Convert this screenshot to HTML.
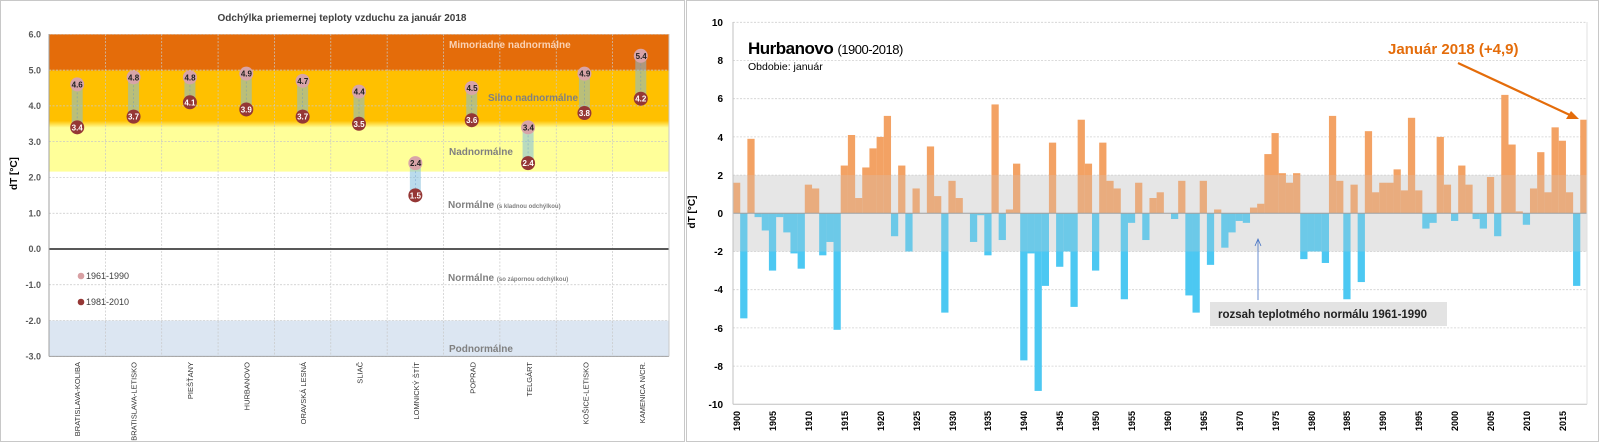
<!DOCTYPE html>
<html><head><meta charset="utf-8"><style>
html,body{margin:0;padding:0;background:#fff;}
svg{display:block;font-family:"Liberation Sans",sans-serif;}
</style></head><body>
<svg id="s" width="1600" height="443" viewBox="0 0 1600 443" xmlns="http://www.w3.org/2000/svg">
<defs>
<linearGradient id="g1" x1="0" y1="0" x2="0" y2="1">
<stop offset="0" stop-color="#E46C0A"/><stop offset="0.255" stop-color="#E46C0A"/>
<stop offset="0.27" stop-color="#FFC000"/><stop offset="0.63" stop-color="#FFC000"/>
<stop offset="0.68" stop-color="#FFFF99"/><stop offset="1" stop-color="#FFFF99"/>
</linearGradient>
</defs>
<rect x="0.5" y="0.5" width="684" height="441" fill="#fff" stroke="#c8c8c8"/>
<rect x="686.5" y="0.5" width="912" height="441" fill="#fff" stroke="#c8c8c8"/>
<!-- LEFT CHART -->
<text x="342" y="21" font-size="10" font-weight="bold" fill="#404040" text-anchor="middle">Odchýlka priemernej teploty vzduchu za január 2018</text>
<rect x="49" y="34.3" width="620" height="137.3" fill="url(#g1)"/>
<rect x="49" y="320.6" width="620" height="35.8" fill="#DCE6F2"/>
<g id="lgrid" stroke="#c8c8c8" stroke-width="0.7" stroke-dasharray="2,1.5"></g>
<line x1="49" y1="249" x2="669" y2="249" stroke="#404040" stroke-width="1.8"/>
<line x1="49" y1="34" x2="49" y2="356.4" stroke="#a0a0a0"/>
<line x1="49" y1="356.4" x2="669" y2="356.4" stroke="#a0a0a0"/>
<line x1="669" y1="34" x2="669" y2="356.4" stroke="#c8c8c8"/>
<g font-size="9" font-weight="bold" fill="#595959" text-anchor="end">
<text x="41" y="37.5">6.0</text><text x="41" y="73.3">5.0</text><text x="41" y="109.1">4.0</text>
<text x="41" y="144.9">3.0</text><text x="41" y="180.7">2.0</text><text x="41" y="216.4">1.0</text>
<text x="41" y="252.2">0.0</text><text x="41" y="288">-1.0</text><text x="41" y="323.8">-2.0</text>
<text x="41" y="359.6">-3.0</text></g>
<text transform="translate(17,190) rotate(-90)" font-size="10" font-weight="bold" fill="#000">dT [°C]</text>
<g font-weight="bold" fill="#808080" font-size="10">
<text x="449" y="48" fill="#FAD2B4">Mimoriadne nadnormálne</text>
<text x="488" y="101">Silno nadnormálne</text>
<text x="449" y="155">Nadnormálne</text>
<text x="448" y="208">Normálne <tspan font-size="6">(s kladnou odchýlkou)</tspan></text>
<text x="448" y="281">Normálne <tspan font-size="6">(so zápornou odchýlkou)</tspan></text>
<text x="449" y="352">Podnormálne</text></g>
<g id="pts"></g>
<circle cx="81" cy="276" r="3.3" fill="#D8A0A3"/><text x="86" y="279" font-size="9" fill="#404040">1961-1990</text>
<circle cx="81" cy="302" r="3.3" fill="#953735"/><text x="86" y="305" font-size="9" fill="#404040">1981-2010</text>
<g font-size="7.5" fill="#333" text-anchor="end">
<text transform="translate(80,362) rotate(-90)">BRATISLAVA-KOLIBA</text>
<text transform="translate(136.5,362) rotate(-90)">BRATISLAVA-LETISKO</text>
<text transform="translate(193,362) rotate(-90)">PIEŠŤANY</text>
<text transform="translate(249.5,362) rotate(-90)">HURBANOVO</text>
<text transform="translate(306,362) rotate(-90)">ORAVSKÁ LESNÁ</text>
<text transform="translate(362.5,362) rotate(-90)">SLIAČ</text>
<text transform="translate(419,362) rotate(-90)">LOMNICKÝ ŠTÍT</text>
<text transform="translate(475.5,362) rotate(-90)">POPRAD</text>
<text transform="translate(532,362) rotate(-90)">TELGÁRT</text>
<text transform="translate(588.5,362) rotate(-90)">KOŠICE-LETISKO</text>
<text transform="translate(645,362) rotate(-90)">KAMENICA N/CR.</text></g>
<!-- RIGHT CHART -->
<rect x="733" y="175.1" width="854" height="76.4" fill="#efefef"/>
<g id="rgrid" stroke="#d0d0d0" stroke-width="0.8" stroke-dasharray="2,1.5"></g>
<g id="bars"></g>
<rect x="733" y="175.1" width="854" height="76.4" fill="rgba(205,205,205,0.25)"/>
<line x1="733" y1="213.3" x2="1587" y2="213.3" stroke="#a0a0a0"/>
<line x1="733" y1="22" x2="733" y2="404.3" stroke="#c0c0c0"/>
<line x1="733" y1="404.3" x2="1587" y2="404.3" stroke="#c0c0c0"/>
<line x1="1587" y1="22" x2="1587" y2="404.3" stroke="#e0e0e0"/>
<g font-size="10" font-weight="bold" fill="#000" text-anchor="end">
<text x="723" y="26">10</text><text x="723" y="64">8</text><text x="723" y="102">6</text>
<text x="723" y="141">4</text><text x="723" y="179">2</text><text x="723" y="217">0</text>
<text x="723" y="255">-2</text><text x="723" y="293">-4</text><text x="723" y="332">-6</text>
<text x="723" y="370">-8</text><text x="723" y="408">-10</text></g>
<text transform="translate(695,212) rotate(-90)" font-size="10" font-weight="bold" fill="#000" text-anchor="middle">dT [°C]</text>
<text x="748" y="54" font-size="17" font-weight="bold" fill="#000" letter-spacing="-0.5">Hurbanovo <tspan font-size="13" font-weight="normal">(1900-2018)</tspan></text>
<text x="748" y="70" font-size="10.5" fill="#000">Obdobie: január</text>
<text x="1388" y="54" font-size="15" font-weight="bold" fill="#E46C0A">Január 2018 (+4,9)</text>
<line x1="1458" y1="63" x2="1572" y2="116" stroke="#E46C0A" stroke-width="2.2"/>
<polygon points="1579,119 1566,119 1571,111" fill="#E46C0A"/>
<rect x="1210" y="302" width="237" height="24" fill="#e3e3e3"/>
<text x="1218" y="318" font-size="11.5" font-weight="bold" fill="#222">rozsah teplotmého normálu 1961-1990</text>
<line x1="1258" y1="300" x2="1258" y2="240" stroke="#4472C4" stroke-width="0.8"/>
<polyline points="1255,246 1258,239 1261,246" fill="none" stroke="#4472C4" stroke-width="0.8"/>
<g font-size="9" font-weight="bold" fill="#000" text-anchor="end">
<text transform="translate(740,411) rotate(-90)">1900</text>
<text transform="translate(776,411) rotate(-90)">1905</text>
<text transform="translate(812,411) rotate(-90)">1910</text>
<text transform="translate(848,411) rotate(-90)">1915</text>
<text transform="translate(884,411) rotate(-90)">1920</text>
<text transform="translate(920,411) rotate(-90)">1925</text>
<text transform="translate(956,411) rotate(-90)">1930</text>
<text transform="translate(991,411) rotate(-90)">1935</text>
<text transform="translate(1027,411) rotate(-90)">1940</text>
<text transform="translate(1063,411) rotate(-90)">1945</text>
<text transform="translate(1099,411) rotate(-90)">1950</text>
<text transform="translate(1135,411) rotate(-90)">1955</text>
<text transform="translate(1171,411) rotate(-90)">1960</text>
<text transform="translate(1207,411) rotate(-90)">1965</text>
<text transform="translate(1243,411) rotate(-90)">1970</text>
<text transform="translate(1279,411) rotate(-90)">1975</text>
<text transform="translate(1315,411) rotate(-90)">1980</text>
<text transform="translate(1350,411) rotate(-90)">1985</text>
<text transform="translate(1386,411) rotate(-90)">1990</text>
<text transform="translate(1422,411) rotate(-90)">1995</text>
<text transform="translate(1458,411) rotate(-90)">2000</text>
<text transform="translate(1494,411) rotate(-90)">2005</text>
<text transform="translate(1530,411) rotate(-90)">2010</text>
<text transform="translate(1566,411) rotate(-90)">2015</text></g>
<g id="pt2" font-size="8" font-weight="bold" text-anchor="middle">
<text x="77.2" y="256">4.6</text><text x="133.6" y="249">4.8</text><text x="190" y="249">4.8</text>
<text x="246.4" y="245">4.9</text><text x="302.8" y="252">4.7</text><text x="359.2" y="263">4.4</text>
<text x="415.6" y="331">2.4</text><text x="472" y="256">4.5</text><text x="528.4" y="292">3.4</text>
<text x="584.8" y="245">4.9</text><text x="641.2" y="224">5.4</text>
</g>
</svg>
<script>
var NS="http://www.w3.org/2000/svg";
function el(p,t,a){var e=document.createElementNS(NS,t);for(var k in a)e.setAttribute(k,a[k]);p.appendChild(e);return e;}
var lg=document.getElementById('lgrid');
for(var v=-3;v<=6;v++){if(v==0)continue;var y=249-35.78*v;el(lg,'line',{x1:49,x2:669,y1:y,y2:y});}
for(var i=1;i<11;i++){var x=49+56.36*i;el(lg,'line',{x1:x,x2:x,y1:34,y2:356});}
var A=[4.6,4.8,4.8,4.9,4.7,4.4,2.4,4.5,3.4,4.9,5.4],B=[3.4,3.7,4.1,3.9,3.7,3.5,1.5,3.6,2.4,3.8,4.2];
var pts=document.getElementById('pts');
var pt2=document.getElementById('pt2');pt2.parentNode.removeChild(pt2);
for(var i=0;i<11;i++){var x=77.2+56.36*i,ya=249-35.78*A[i],yb=249-35.78*B[i];
el(pts,'rect',{x:x-5.5,y:ya,width:11,height:yb-ya,fill:'rgba(130,190,220,0.55)'});
el(pts,'line',{x1:x,x2:x,y1:ya,y2:yb,stroke:'rgba(90,140,200,0.5)','stroke-dasharray':'2,2','stroke-width':0.7});
el(pts,'circle',{cx:x,cy:ya,r:7,fill:'#D8A4A8'});
el(pts,'circle',{cx:x,cy:yb,r:7,fill:'#953735'});}
pts.appendChild(pt2);
var t2=pt2.querySelectorAll('text');
for(var i=0;i<11;i++){var x=77.2+56.36*i;t2[i].setAttribute('y',249-35.78*A[i]+3);t2[i].setAttribute('fill','#222');
var t=el(pt2,'text',{x:x,y:249-35.78*B[i]+3,fill:'#fff'});t.textContent=B[i].toFixed(1);}
var rg=document.getElementById('rgrid');
for(var v=-8;v<=10;v+=2){if(v==0)continue;var y=213.3-19.1*v;el(rg,'line',{x1:733,x2:1587,y1:y,y2:y});}
var D=[1.6,-5.5,3.9,-0.2,-0.9,-3.0,-0.2,-1.0,-2.1,-2.9,1.5,1.3,-2.2,-1.5,-6.1,2.5,4.1,0.8,2.4,3.4,4.0,5.1,-1.2,2.5,-2.0,1.3,0,3.5,0.9,-5.2,1.7,0.8,0,-1.5,-0.1,-2.2,5.7,-1.4,0.2,2.6,-7.7,-2.1,-9.3,-3.8,3.7,-2.8,-2.0,-4.9,4.9,2.6,-3.0,3.7,1.7,1.3,-4.5,-0.5,1.6,-1.4,0.8,1.1,0,-0.3,1.7,-4.3,-5.2,1.7,-2.7,0.2,-1.8,-1.0,-0.4,-0.5,0.3,0.5,3.1,4.2,2.1,1.6,2.1,-2.4,-2.0,-2.0,-2.6,5.1,1.7,-4.5,1.5,-3.6,4.3,1.1,1.6,1.6,2.3,1.2,5.0,1.2,-0.8,-0.5,4.0,1.5,-0.4,2.5,1.5,-0.3,-0.8,1.9,-1.2,6.2,3.6,0.1,-0.6,1.3,3.2,1.1,4.5,3.8,1.1,-3.8,4.9];
var bg=document.getElementById('bars');
for(var i=0;i<D.length;i++){var v=D[i];if(v==0)continue;var x=733+7.18*i,h=Math.abs(v)*19.1;
el(bg,'rect',{x:x.toFixed(2),y:v>0?213.3-h:213.3,width:7.25,height:h,fill:v>0?'#F3A264':'#4CC8F2'});}
</script>
</body></html>
